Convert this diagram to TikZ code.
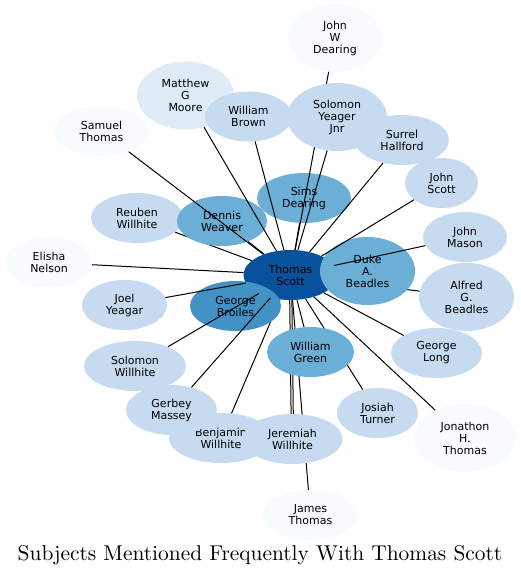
\documentclass[tikz,border=0pt]{standalone}
\usepackage{fontspec}
\newfontfamily\nodefont{DejaVu Sans}
\usetikzlibrary{shapes.geometric}
\definecolor{b0}{HTML}{F7FBFF}
\definecolor{b1}{HTML}{DEEBF7}
\definecolor{b2}{HTML}{C6DBEF}
\definecolor{b4}{HTML}{6BAED6}
\definecolor{b5}{HTML}{4292C6}
\definecolor{b7}{HTML}{08519C}
\tikzset{
  bub/.style={ellipse, inner sep=0pt, draw=none, align=center,
    font=\nodefont\fontsize{11}{12}\selectfont, text=black},
  sz/.style 2 args={minimum width=#1pt, minimum height=#2pt},
  edge/.style={draw=black, line width=1pt},
}
\begin{document}
\begin{tikzpicture}[x=1pt, y=-1pt]
\useasboundingbox (0,0) rectangle (521,575);
% centre
\node[bub, fill=b7, sz={94}{50}] (ts) at (290.5,275) {Thomas\\Scott};
\draw[edge] (ts) -- (367.5,271) coordinate (dukec);
\draw[edge] (ts) -- (235.5,306) coordinate (gbc);
% right side
\node[bub, fill=b2, sz={95}{68}] (alf) at (466.5,297) {Alfred\\G.\\Beadles};
\draw[edge] (ts) -- (alf);
\node[bub, fill=b4, sz={95}{68}] (duke) at (367.5,271) {Duke\\A.\\Beadles};
\node[bub, fill=b2, sz={84}{50}] (jm) at (465,237) {John\\Mason};
\draw[edge] (ts) -- (jm);
\node[bub, fill=b2, sz={73}{50}] (js) at (441.5,183) {John\\Scott};
\draw[edge] (ts) -- (js);
\node[bub, fill=b4, sz={94}{50}] (sims) at (304,198) {Sims\\Dearing};
\draw[edge] (ts) -- (sims);
\node[bub, fill=b2, sz={94}{50}] (sur) at (402,140) {Surrel\\Hallford};
\draw[edge] (ts) -- (sur);
\node[bub, fill=b0, sz={94}{68}] (jwd) at (335,38) {John\\W\\Dearing};
\draw[edge] (ts) -- (jwd);
\node[bub, fill=b2, sz={100}{68}] (syj) at (337,117) {Solomon\\Yeager\\Jnr};
\draw[edge] (ts) -- (syj);
% left top
\node[bub, fill=b2, sz={92}{50}] (reu) at (137,218) {Reuben\\Willhite};
\draw[edge] (ts) -- (reu);
\node[bub, fill=b4, sz={90}{50}] (den) at (222,221) {Dennis\\Weaver};
\draw[edge] (ts) -- (den);
\node[bub, fill=b0, sz={95}{50}] (sam) at (101.5,131) {Samuel\\Thomas};
\draw[edge] (ts) -- (sam);
\node[bub, fill=b1, sz={97}{68}] (mat) at (185.5,95.5) {Matthew\\G\\Moore};
\draw[edge] (ts) -- (mat);
\node[bub, fill=b2, sz={87}{50}] (wb) at (248.5,116.5) {William\\Brown};
\draw[edge] (ts) -- (wb);
\node[bub, fill=b0, sz={86}{50}] (eli) at (49,262.5) {Elisha\\Nelson};
\draw[edge] (ts) -- (eli);
% bottom
\node[bub, fill=b2, sz={104}{50}] (ben) at (221,438) {Benjamin\\Willhite};
\draw[edge] (ts) -- (ben);
\node[bub, fill=b0, sz={95}{50}] (jam) at (310.5,515) {James\\Thomas};
\draw[edge] (ts) -- (jam);
\node[bub, fill=b2, sz={100}{50}] (jer) at (292.5,439) {Jeremiah\\Willhite};
\draw[edge, transform canvas={xshift=-1.1pt}] (ts) -- (jer);
\draw[edge, transform canvas={xshift=1.1pt}] (ts) -- (jer);
\node[bub, fill=b2, sz={81}{50}] (jos) at (377.5,413) {Josiah\\Turner};
\draw[edge] (ts) -- (jos);
\node[bub, fill=b4, sz={87}{50}] (wg) at (310.5,352) {William\\Green};
\draw[edge] (ts) -- (wg);
\node[bub, fill=b5, sz={91}{50}] (gb) at (235.5,306) {George\\Broiles};
\node[bub, fill=b2, sz={85}{50}] (joel) at (124.5,305) {Joel\\Yeagar};
\draw[edge] (ts) -- (joel);
\node[bub, fill=b2, sz={102}{50}] (sw) at (135,366) {Solomon\\Willhite};
\draw[edge] (ts) -- (sw);
\node[bub, fill=b2, sz={91}{50}] (ger) at (171.5,410) {Gerbey\\Massey};
\draw[edge] (ts) -- (ger);
\node[bub, fill=b2, sz={91}{50}] (gl) at (436.5,353) {George\\Long};
\draw[edge] (ts) -- (gl);
\node[bub, fill=b0, sz={102}{68}] (jon) at (465,438) {Jonathon\\H.\\Thomas};
\draw[edge] (ts) -- (jon);
% title
\node[anchor=base, inner sep=0pt] (title) at (260,560) {\scalebox{2.14}{\fontsize{10}{12}\selectfont Subjects Mentioned Frequently With Thomas Scott}};
\end{tikzpicture}
\end{document}
